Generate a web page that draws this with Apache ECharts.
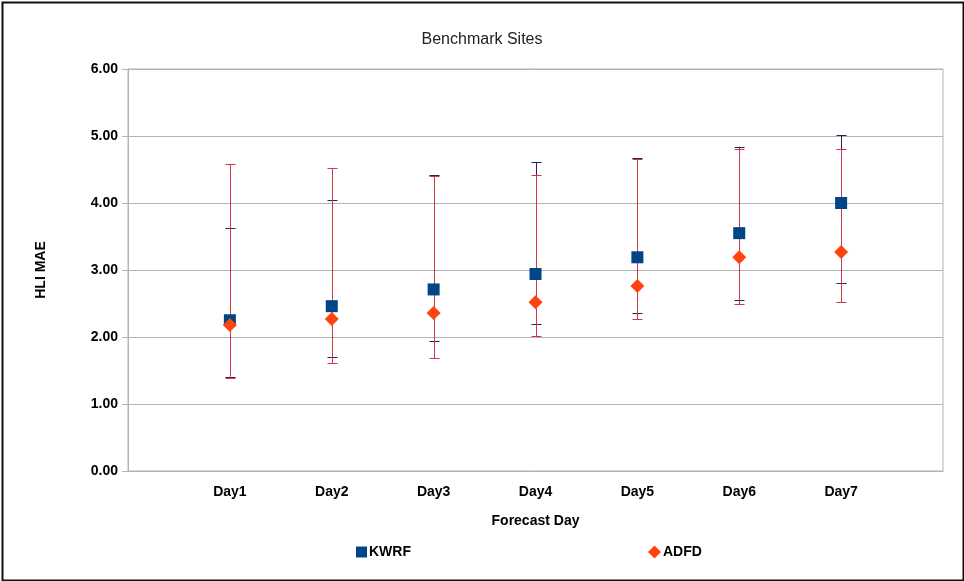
<!DOCTYPE html>
<html><head><meta charset="utf-8">
<script src="https://cdn.jsdelivr.net/npm/echarts@6/dist/echarts.min.js"></script>
<style>html,body{margin:0;padding:0;background:#fff}#c{width:964px;height:581px}</style>
</head><body><div id="c"></div>
<script>
const categories = ['', 'Day1', 'Day2', 'Day3', 'Day4', 'Day5', 'Day6', 'Day7', ''];
const kwrf     = [2.25, 2.46, 2.71, 2.94, 3.19, 3.55, 4.00];
const kwrfLow  = [1.40, 1.70, 1.94, 2.19, 2.36, 2.55, 2.81];
const kwrfHigh = [3.62, 4.05, 4.42, 4.61, 4.67, 4.83, 5.02];
const adfd     = [2.18, 2.27, 2.36, 2.52, 2.76, 3.19, 3.27];
const adfdLow  = [1.39, 1.61, 1.69, 2.01, 2.27, 2.49, 2.52];
const adfdHigh = [4.58, 4.52, 4.40, 4.42, 4.66, 4.81, 4.81];
const yTicks = [0, 1, 2, 3, 4, 5, 6];

const dayIdx = kwrf.map((_, i) => categories[i + 1]);

function errData(low, high) {
  return low.map((l, i) => [dayIdx[i], l, high[i]]);
}
function errRender(color, lw) {
  return function (params, api) {
    const x = api.value(0);
    const lo = api.coord([x, api.value(1)]);
    const hi = api.coord([x, api.value(2)]);
    const px = Math.round(lo[0]) + 0.5;
    const ly = Math.round(lo[1]) + 0.5, hy = Math.round(hi[1]) + 0.5;
    const w = 5;
    const st = { stroke: color, lineWidth: lw };
    return {
      type: 'group',
      children: [
        { type: 'line', shape: { x1: px, y1: ly, x2: px, y2: hy }, style: st },
        { type: 'line', shape: { x1: px - w, y1: ly, x2: px + w, y2: ly }, style: st },
        { type: 'line', shape: { x1: px - w, y1: hy, x2: px + w, y2: hy }, style: st }
      ]
    };
  };
}

const font = 'Liberation Sans, Arial, sans-serif';
const chart = echarts.init(document.getElementById('c'), null, { renderer: 'canvas' });
chart.setOption({
  animation: false,
  backgroundColor: '#fff',
  title: {
    text: 'Benchmark Sites', left: 'center', top: 27,
    textStyle: { fontFamily: font, fontSize: 16, fontWeight: 'normal', color: '#222' }
  },
  graphic: [{
    type: 'rect', left: 0, top: 0, shape: { x: 1, y: 1, width: 961, height: 578 },
    style: { fill: 'none', stroke: '#111', lineWidth: 2 }, silent: true
  }],
  legend: [{
    data: [{ name: 'KWRF', icon: 'rect' }],
    left: 351, top: 540, itemWidth: 11, itemHeight: 11, itemGap: 4,
    textStyle: { fontFamily: font, fontSize: 14, fontWeight: 'bold', color: '#000', padding: [0, 0, 0, -3] }
  }, {
    data: [{ name: 'ADFD', icon: 'diamond' }],
    left: 643, top: 540, itemWidth: 13, itemHeight: 13, itemGap: 4,
    textStyle: { fontFamily: font, fontSize: 14, fontWeight: 'bold', color: '#000', padding: [0, 0, 0, -3] }
  }],
  grid: { left: 128, right: 21, top: 69, bottom: 110, show: true, borderColor: '#b3b3b3', borderWidth: 1 },
  xAxis: {
    type: 'category', data: categories, boundaryGap: false,
    name: 'Forecast Day', nameLocation: 'middle', nameGap: 43,
    nameTextStyle: { fontFamily: font, fontSize: 14, fontWeight: 'bold', color: '#000' },
    axisLine: { show: true, lineStyle: { color: '#b3b3b3' } },
    axisTick: { show: false },
    axisLabel: { fontFamily: font, fontSize: 14, fontWeight: 'bold', color: '#000', margin: 14 },
    splitLine: { show: false }
  },
  yAxis: {
    type: 'value', min: 0, max: 6, interval: 1,
    name: 'HLI MAE', nameLocation: 'middle', nameGap: 80, nameRotate: 90,
    nameTextStyle: { fontFamily: font, fontSize: 14, fontWeight: 'bold', color: '#000' },
    axisLine: { show: true, lineStyle: { color: '#b3b3b3' } },
    axisTick: { show: true, length: 6, lineStyle: { color: '#b3b3b3' } },
    axisLabel: { fontFamily: font, fontSize: 14, fontWeight: 'bold', color: '#000', margin: 10,
      formatter: v => yTicks.includes(v) ? v.toFixed(2) : '' },
    splitLine: { show: true, lineStyle: { color: '#b3b3b3', width: 1 } }
  },
  series: [
    { type: 'custom', name: 'kwrfErr', renderItem: errRender('#2e1f55', 1), data: errData(kwrfLow, kwrfHigh), z: 2, silent: true },
    { type: 'custom', name: 'adfdErr', renderItem: errRender('#cc3a4a', 1), data: errData(adfdLow, adfdHigh), z: 3, silent: true },
    { type: 'scatter', name: 'KWRF', symbol: 'rect', symbolSize: 12, z: 4,
      itemStyle: { color: '#004586', opacity: 1 }, data: kwrf.map((v, i) => [dayIdx[i], v]) },
    { type: 'scatter', name: 'ADFD', symbol: 'diamond', symbolSize: 14, z: 5,
      itemStyle: { color: '#ff420e', opacity: 1 }, data: adfd.map((v, i) => [dayIdx[i], v]) }
  ]
});
</script></body></html>
